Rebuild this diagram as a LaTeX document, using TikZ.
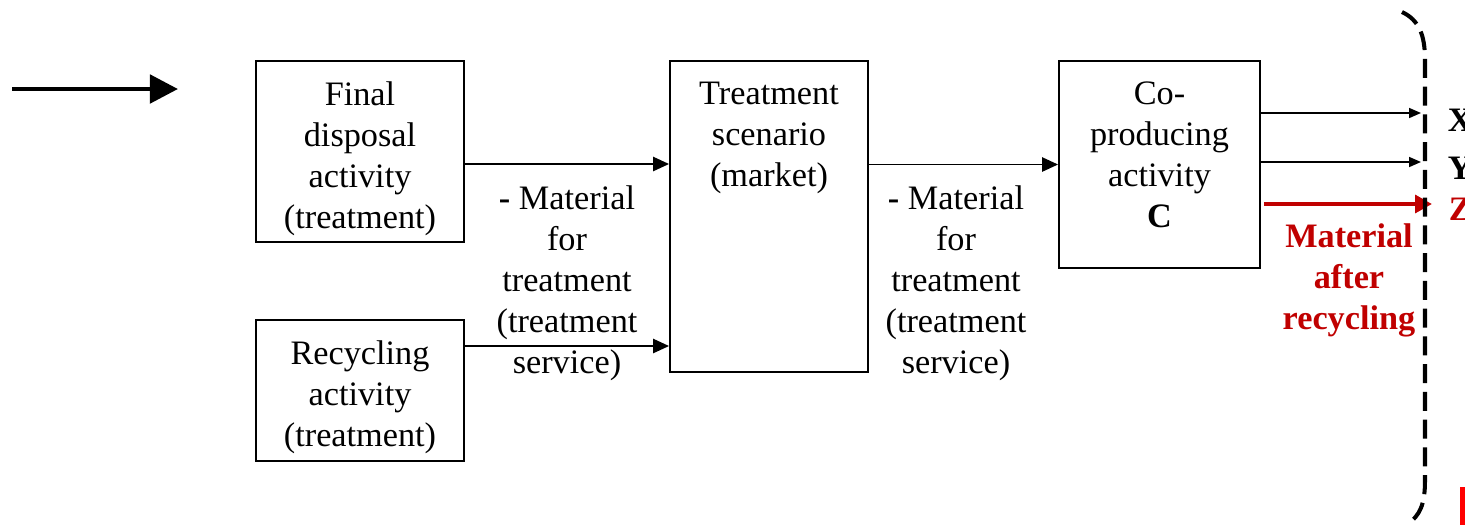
\documentclass[tikz,border=0pt]{standalone}
\usepackage{fontspec}
\setmainfont{Liberation Serif}
\usetikzlibrary{arrows.meta,positioning}
\definecolor{recred}{HTML}{C00000}

\begin{document}
\begin{tikzpicture}[
    x = 0.02cm, y = -0.02cm, % one unit per pixel of the layout
    font = \fontsize{19.5}{23.3}\selectfont,
    line width = 1.1pt, % box and flow lines
    > = {Triangle[length=9pt,width=8pt]}, % arrow head style
    activity/.style = {draw = black, rectangle, inner sep = 0pt},
    boxtext/.style = {align = center, inner sep = 0pt},
    outflow/.style = {line width = 0.85pt, -{Triangle[length=6.8pt,width=5.7pt]}}
    ]
    \useasboundingbox (0,0) rectangle (1465,525);

    % activities
    \node[activity, minimum width=4.16cm, minimum height=3.62cm] (final) at (360,151.5) {};
    \node[boxtext] (finaltxt) [below=0.42cm of final.north] {Final\\disposal\\activity\\(treatment)};
    \node[activity, minimum width=4.16cm, minimum height=2.82cm] (recyc) at (360,390.5) {};
    \node[boxtext] (recyctxt) [below=0.42cm of recyc.north] {Recycling\\activity\\(treatment)};
    \node[activity, minimum width=3.96cm, minimum height=6.22cm] (treat) at (769,216.5) {};
    \node[boxtext] (treattxt) [below=0.42cm of treat.north] {Treatment\\scenario\\(market)};
    \node[activity, minimum width=4.02cm, minimum height=4.14cm] (co) at (1159.5,164.5) {};
    \node[boxtext] (cotxt) [below=0.42cm of co.north] {Co-\\producing\\activity\\\textbf{C}};

    % flow labels
    \node[boxtext] (mat1) at (567,283) {\textbf{-} Material\\for\\treatment\\(treatment\\service)};
    \node[boxtext] (mat2) at (956,283) {\textbf{-} Material\\for\\treatment\\(treatment\\service)};
    \node[boxtext, text=recred, font=\fontsize{19.5}{23.3}\selectfont\bfseries] (matrec) at (1349,280)
        {Material\\after\\recycling};

    % products
    \node[boxtext, anchor=west, font=\fontsize{19.5}{23.3}\selectfont\bfseries] (px) at (1447,120) {X};
    \node[boxtext, anchor=west, font=\fontsize{19.5}{23.3}\selectfont\bfseries] (py) at (1447,168) {Y};
    \node[boxtext, anchor=west, text=recred, font=\fontsize{19.5}{23.3}\selectfont\bfseries] (pz) at (1448,209) {Z};

    \coordinate (instart) at (12,89);
    \coordinate (inend) at (178,89);
    \coordinate (xend) at (1421,113);
    \coordinate (yend) at (1421,162);
    \coordinate (zend) at (1432,204);

    % flows
    \draw[line width=2.8pt, -{Triangle[length=16pt,width=16pt]}] (instart) -- (inend);
    \draw[->] ([yshift=-0.25cm]final.east) -- ([yshift=-0.25cm]final.east -| treat.west);
    \draw[->] ([yshift=0.89cm]recyc.east) -- ([yshift=0.89cm]recyc.east -| treat.west);
    \draw[->] (treat.east |- co.west) -- (co.west);
    \draw[outflow] (co.east |- xend) -- (xend);
    \draw[outflow] (co.east |- yend) -- (yend);
    \draw[recred, line width=2.8pt, -{Triangle[length=9.6pt,width=10pt]}]
        ([xshift=0.06cm]co.east |- zend) -- (zend);

    % system boundary
    \draw[line width=2.3pt, dash pattern=on 10.8pt off 5pt]
        (1402,12) .. controls (1419,20) and (1425,35) .. (1425,60)
        -- (1425,480) .. controls (1425,505) and (1420,515) .. (1407,525);
    \fill[red] (1460,487) rectangle (1465,525);
\end{tikzpicture}
\end{document}
